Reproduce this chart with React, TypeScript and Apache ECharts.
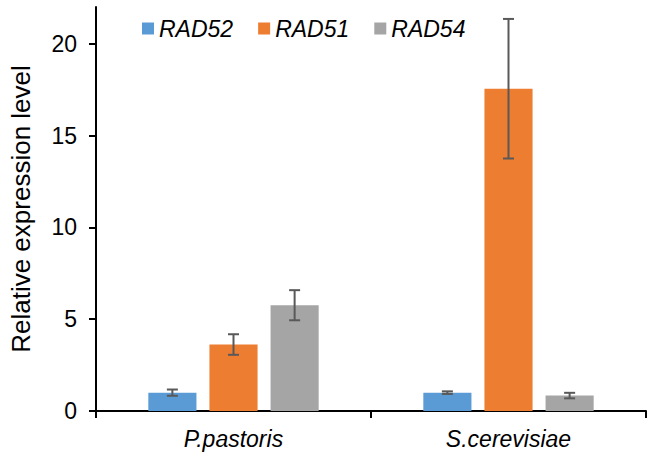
import React, { useEffect, useRef } from "react";
import * as echarts from "echarts";

const categories = ["P.pastoris", "S.cerevisiae"];
const seriesNames = ["RAD52", "RAD51", "RAD54"];
const rad52 = [1.0, 1.0];
const rad51 = [3.62, 17.55];
const rad54 = [5.76, 0.84];
const rad52Err = [0.17, 0.07];
const rad51Err = [0.56, 3.8];
const rad54Err = [0.82, 0.15];
const yTicks = [0, 5, 10, 15, 20];

const colors = ["#5B9BD5", "#ED7D31", "#A5A5A5"];
const FONT = "Liberation Sans, Arial, sans-serif";
const BAR_FRAC = 0.175;
const GAP_FRAC = 0.27;

export default function App() {
  const ref = useRef<HTMLDivElement>(null);
  useEffect(() => {
    if (!ref.current) return;
    const chart = echarts.init(ref.current, null, { renderer: "svg" });
    const values = [rad52, rad51, rad54];
    const errs = [rad52Err, rad51Err, rad54Err];
    const errData: number[][] = [];
    values.forEach((vals, s) => {
      vals.forEach((v, c) => {
        errData.push([c, s, v, errs[s][c]]);
      });
    });
    chart.setOption({
      animation: false,
      textStyle: { fontFamily: FONT },
      legend: {
        data: seriesNames,
        left: 137,
        top: 12,
        icon: "rect",
        itemWidth: 12,
        itemHeight: 12,
        itemGap: 25,
        textStyle: { fontSize: 23, fontStyle: "italic", color: "#000", fontFamily: FONT },
      },
      grid: { left: 96, right: 6, top: 7, bottom: 46, containLabel: false },
      xAxis: {
        type: "category",
        data: categories,
        axisLine: { lineStyle: { color: "#000", width: 2 } },
        axisTick: { show: true, length: 7, lineStyle: { color: "#000", width: 2 } },
        axisLabel: { fontSize: 23, fontStyle: "italic", color: "#000", margin: 16, fontFamily: FONT },
      },
      yAxis: {
        type: "value",
        min: 0,
        max: 22,
        interval: 5,
        name: "Relative expression level",
        nameLocation: "middle",
        nameGap: 62,
        nameTextStyle: { fontSize: 26, color: "#000", fontFamily: FONT },
        splitLine: { show: false },
        axisLine: { show: true, lineStyle: { color: "#000", width: 2 } },
        axisTick: { show: true, length: 7, customValues: yTicks, lineStyle: { color: "#000", width: 2 } },
        axisLabel: { fontSize: 23, color: "#000", margin: 19, customValues: yTicks, fontFamily: FONT },
      },
      series: [
        ...seriesNames.map((name, i) => ({
          name,
          type: "bar",
          data: values[i],
          barWidth: BAR_FRAC * 100 + "%",
          barGap: GAP_FRAC * 100 + "%",
          itemStyle: { color: colors[i] },
        })),
        {
          type: "custom",
          data: errData,
          encode: { x: 0, y: 2 },
          z: 10,
          renderItem: (params: any, api: any) => {
            const c = api.value(0);
            const s = api.value(1);
            const v = api.value(2);
            const e = api.value(3);
            const band = api.size([1, 0])[0];
            const bw = band * BAR_FRAC;
            const gap = bw * GAP_FRAC;
            const base = api.coord([c, v]);
            const x = base[0] + (s - 1) * (bw + gap);
            const yTop = api.coord([c, v + e])[1];
            const yBot = api.coord([c, v - e])[1];
            const hw = 5.5;
            const style = { stroke: "#595959", lineWidth: 2 };
            return {
              type: "group",
              children: [
                { type: "line", shape: { x1: x, y1: yTop, x2: x, y2: yBot }, style },
                { type: "line", shape: { x1: x - hw, y1: yTop, x2: x + hw, y2: yTop }, style },
                { type: "line", shape: { x1: x - hw, y1: yBot, x2: x + hw, y2: yBot }, style },
              ],
            };
          },
        },
      ],
    });
    return () => chart.dispose();
  }, []);
  return (
    <div
      ref={ref}
      style={{ position: "absolute", left: 0, top: 0, width: 652, height: 457 }}
    />
  );
}
